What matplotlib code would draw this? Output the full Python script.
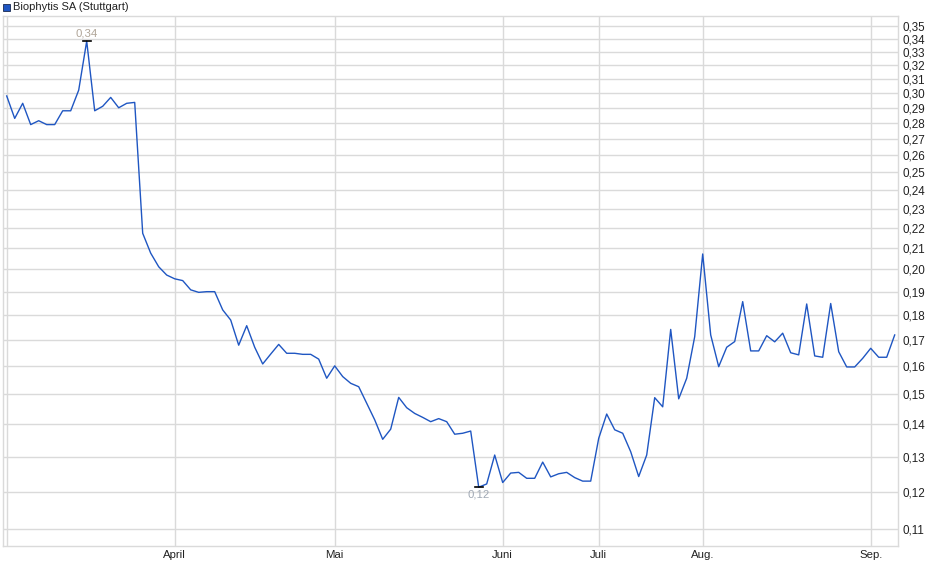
import matplotlib
matplotlib.use("Agg")
import matplotlib.pyplot as plt
from matplotlib.ticker import FixedLocator, NullLocator, FixedFormatter
from matplotlib.patches import Rectangle

title = "Biophytis SA (Stuttgart)"

# closing prices, one per trading day (Stuttgart)
prices = [
    0.298, 0.283, 0.293, 0.279, 0.2815, 0.279, 0.279, 0.288, 0.288, 0.302,
    0.338, 0.288, 0.291, 0.297, 0.290, 0.293, 0.2936, 0.2173, 0.2076, 0.2012,
    0.1974, 0.1957, 0.1949, 0.1908, 0.1897, 0.190, 0.190, 0.1822, 0.178, 0.168,
    0.1757, 0.1672, 0.1609, 0.1646, 0.1683, 0.1649, 0.1649, 0.1645, 0.1645, 0.1627,
    0.1557, 0.1602, 0.1563, 0.1539, 0.1527, 0.147, 0.1415, 0.1353, 0.1385, 0.149,
    0.1455, 0.1436, 0.1423, 0.1409, 0.1419, 0.1409, 0.1369, 0.1372, 0.1379, 0.1212,
    0.1221, 0.1305, 0.1225, 0.1252, 0.1254, 0.1237, 0.1237, 0.1284, 0.1241, 0.125,
    0.1254, 0.1239, 0.1229, 0.1229, 0.1356, 0.1434, 0.1383, 0.1372, 0.1315, 0.1242,
    0.1305, 0.1489, 0.1458, 0.1742, 0.1485, 0.1557, 0.1713, 0.2072, 0.172, 0.1599,
    0.1672, 0.1694, 0.1857, 0.1658, 0.1658, 0.1717, 0.1693, 0.1727, 0.1651, 0.1643,
    0.1847, 0.1639, 0.1634, 0.1849, 0.1655, 0.1598, 0.1598, 0.163, 0.1668, 0.1634,
    0.1634, 0.172,
]

# index of first trading day of each month
month_idx = [0, 21, 41, 62, 74, 87, 108]
month_labels = ["", "April", "Mai", "Juni", "Juli", "Aug.", "Sep."]

y_ticks = [0.11, 0.12, 0.13, 0.14, 0.15, 0.16, 0.17, 0.18, 0.19, 0.20, 0.21,
           0.22, 0.23, 0.24, 0.25, 0.26, 0.27, 0.28, 0.29, 0.30, 0.31, 0.32,
           0.33, 0.34, 0.35]

max_label = "0,34"
min_label = "0,12"

plt.rcParams["font.family"] = ["Liberation Sans", "DejaVu Sans"]

fig = plt.figure(figsize=(9.40, 5.79), dpi=100)
ax = fig.add_axes([2.7 / 940, 1 - 545.7 / 579, (898.3 - 2.7) / 940, (545.7 - 16) / 579])

x = list(range(len(prices)))
ax.plot(x, prices, color="#1f56c2", lw=1.0, zorder=3)

ax.set_yscale("log")
ax.set_ylim(0.10594, 0.35814)
ax.set_xlim(-0.5, 111.45)

ax.yaxis.set_major_locator(FixedLocator(y_ticks))
ax.yaxis.set_minor_locator(NullLocator())
ax.yaxis.set_major_formatter(FixedFormatter([f"{v:.2f}".replace(".", ",") for v in y_ticks]))
ax.yaxis.tick_right()
ax.tick_params(axis="y", length=0, pad=3, labelsize=8.4, colors="#222222")

ax.xaxis.set_major_locator(FixedLocator(month_idx))
ax.xaxis.set_major_formatter(FixedFormatter(month_labels))
ax.tick_params(axis="x", length=0, pad=3, labelsize=8.2, colors="#222222")

ax.grid(True, color="#dadada", lw=1.0)
ax.set_axisbelow(True)
for s in ax.spines.values():
    s.set_color("#dadada")
    s.set_linewidth(1.0)

# extreme markers
imax = prices.index(max(prices))
imin = prices.index(min(prices))
ax.plot([imax - 0.5, imax + 0.5], [prices[imax]] * 2, color="black", lw=1.2, zorder=4)
ax.plot([imin - 0.5, imin + 0.5], [prices[imin]] * 2, color="black", lw=1.2, zorder=4)
ax.annotate(max_label, (imax, prices[imax]), xytext=(0, 2), textcoords="offset points",
            ha="center", va="bottom", fontsize=8.2, color="#b0a598")
ax.annotate(min_label, (imin, prices[imin]), xytext=(0, -2), textcoords="offset points",
            ha="center", va="top", fontsize=8.2, color="#a0a8b4")

# legend square + title
fig.patches.append(Rectangle((3 / 940, 1 - 11 / 579), 7 / 940, 7 / 579,
                             transform=fig.transFigure, facecolor="#1f56c2",
                             edgecolor="#1a2a50", lw=0.6))
fig.text(13 / 940, 1 - 6.5 / 579, title, fontsize=8.0, va="center", ha="left", color="#222222")

fig.savefig("out.png", dpi=100)
